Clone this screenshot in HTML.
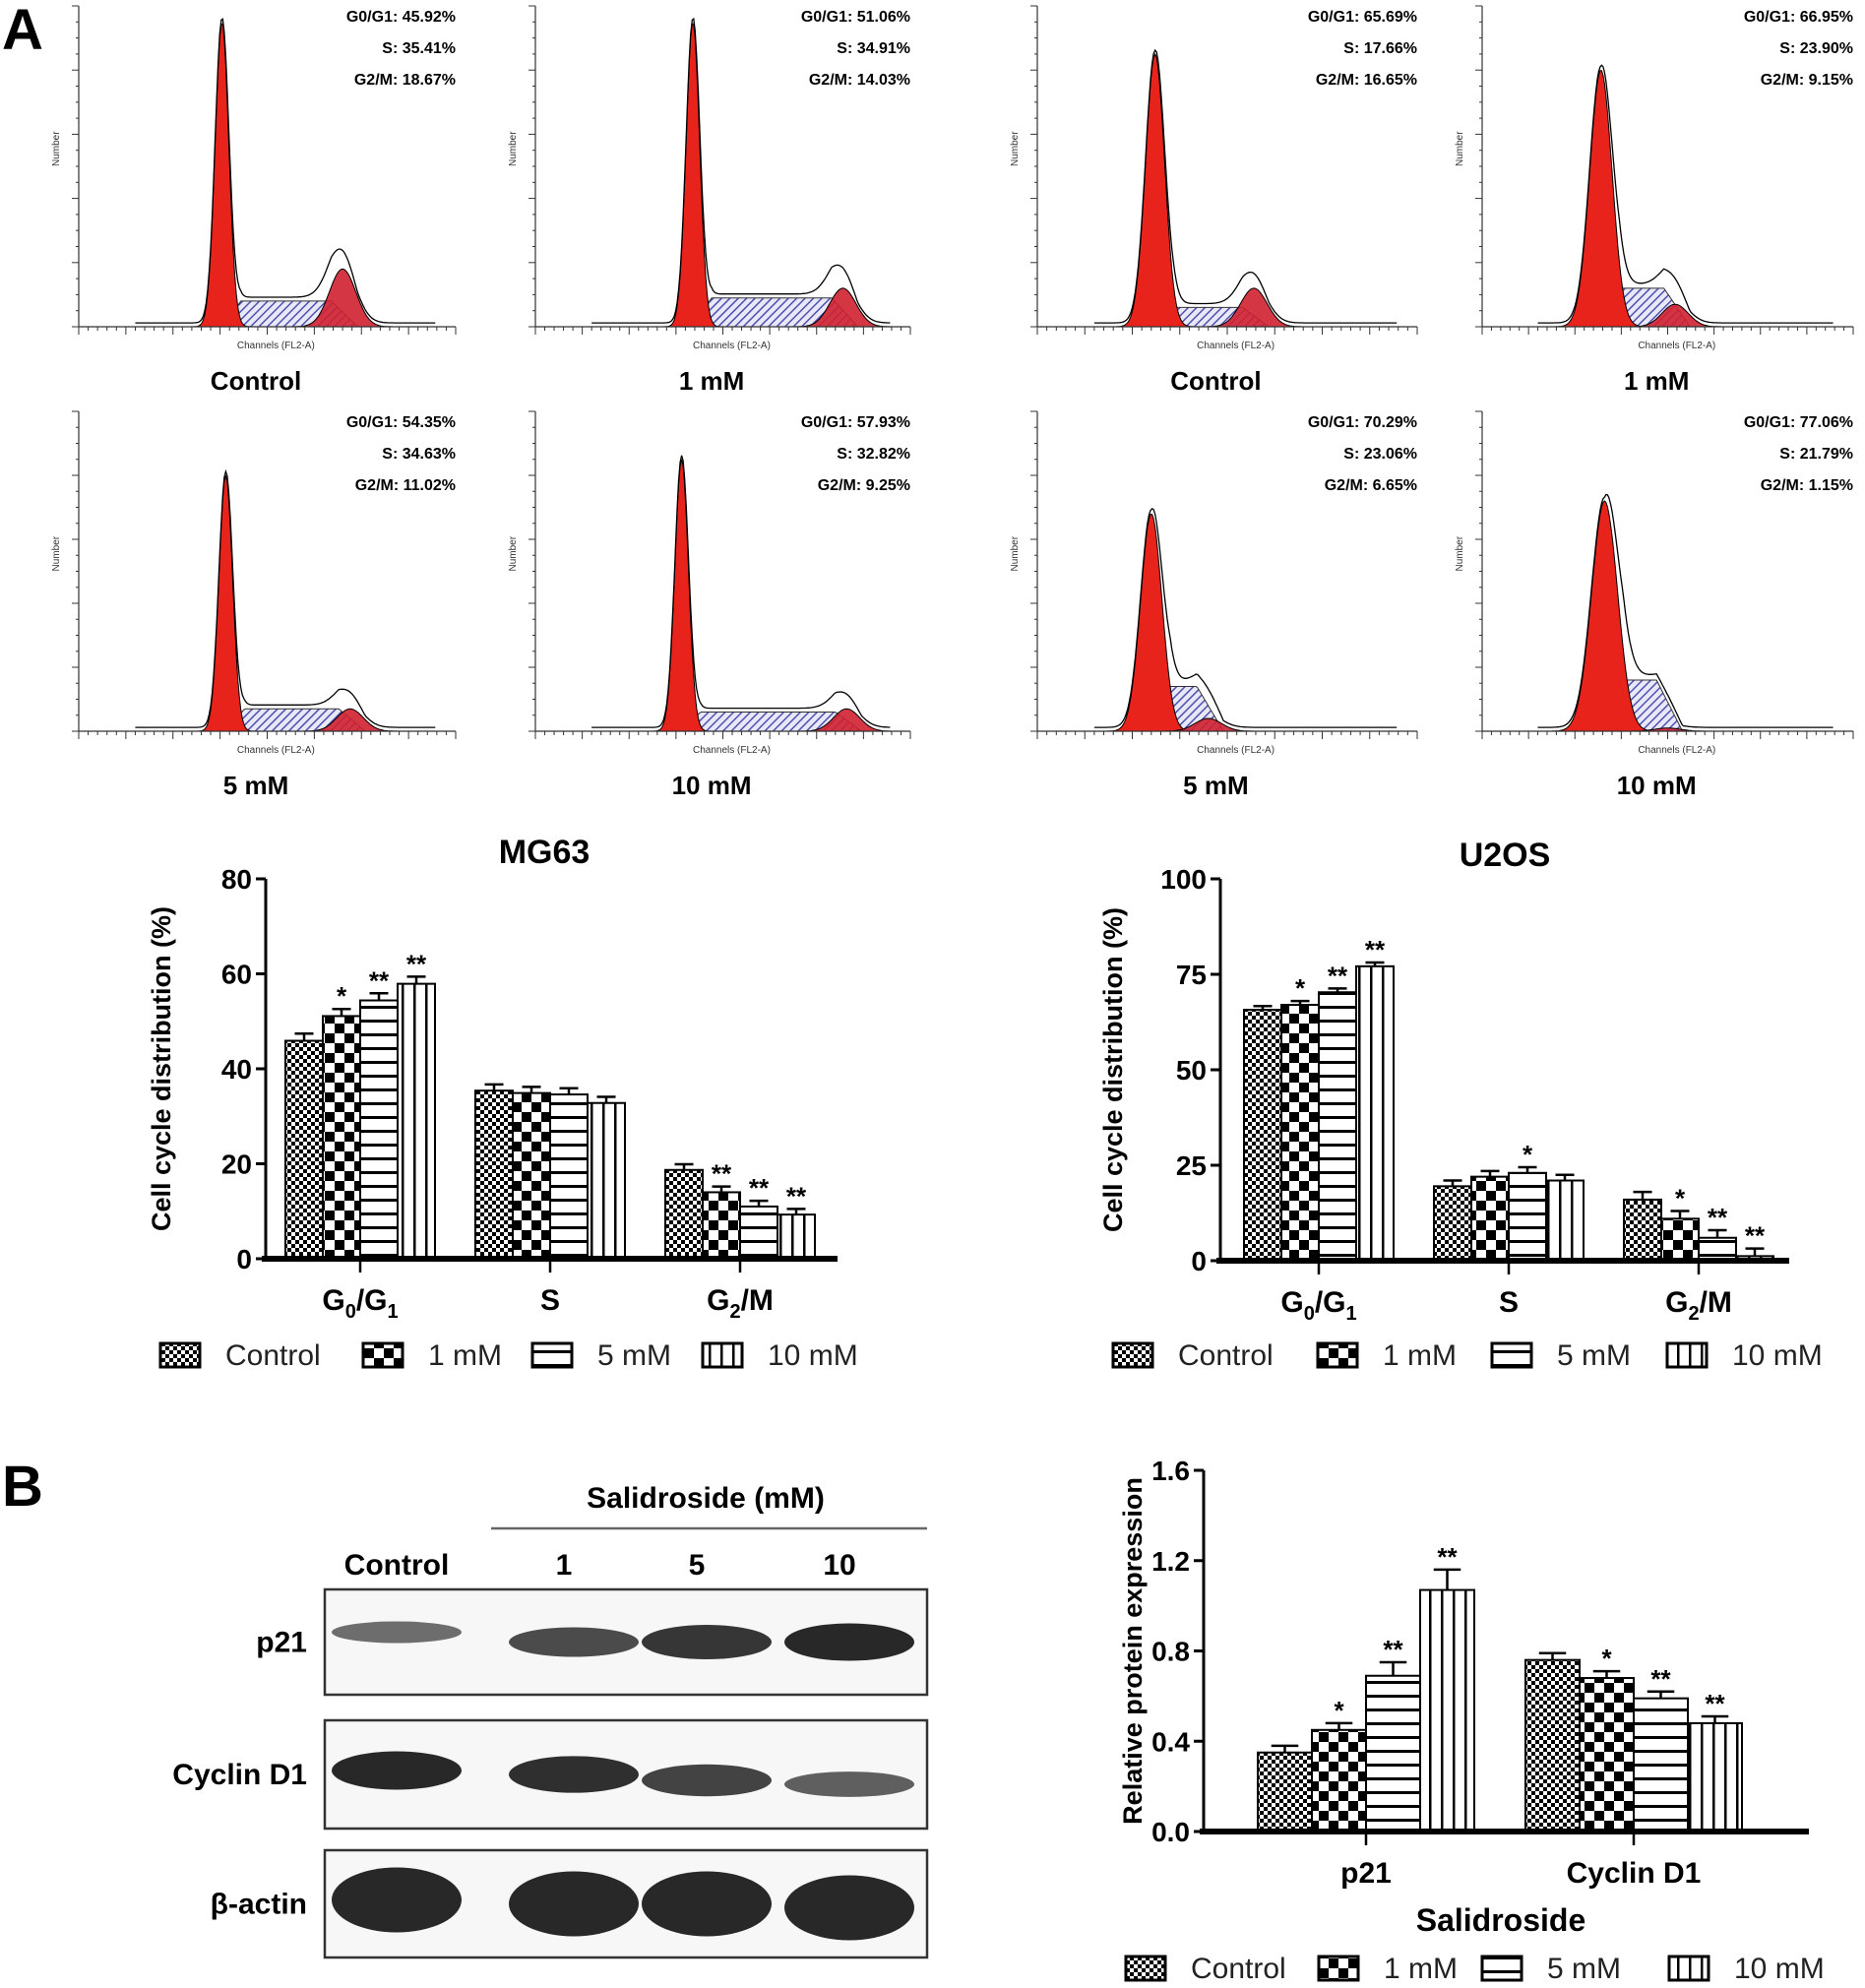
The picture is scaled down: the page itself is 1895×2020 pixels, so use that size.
<!DOCTYPE html>
<html><head><meta charset="utf-8">
<style>
body{margin:0;background:#fff;width:1895px;height:2020px;overflow:hidden;font-family:"Liberation Sans",sans-serif}
svg{position:absolute;left:0;top:0}
</style></head>
<body>
<svg id="fig" width="1895" height="2020" viewBox="0 0 1895 2020" font-family="Liberation Sans, sans-serif">
<defs>
<pattern id="pCtrl" width="8" height="8" patternUnits="userSpaceOnUse"><rect width="8" height="8" fill="#fff"/><rect width="4" height="4" fill="#000"/><rect x="4" y="4" width="4" height="4" fill="#000"/></pattern>
<pattern id="p1" width="20" height="20" patternUnits="userSpaceOnUse"><rect width="20" height="20" fill="#fff"/><rect width="10" height="10" fill="#000"/><rect x="10" y="10" width="10" height="10" fill="#000"/></pattern>
<pattern id="p5" width="10" height="14" patternUnits="userSpaceOnUse"><rect width="10" height="14" fill="#fff"/><rect y="0" width="10" height="3" fill="#000"/></pattern>
<pattern id="p10" width="12" height="10" patternUnits="userSpaceOnUse"><rect width="12" height="10" fill="#fff"/><rect width="2.5" height="10" fill="#000"/></pattern>
<pattern id="hatch" width="6" height="6" patternUnits="userSpaceOnUse" patternTransform="rotate(45)"><rect width="6" height="6" fill="#e8e8f8"/><rect width="1.5" height="6" fill="#5050b0"/></pattern>
</defs>
<text x="2" y="50" font-size="58" font-weight="bold">A</text>
<text x="2" y="1530" font-size="58" font-weight="bold">B</text>
<g id="hists"></g>
<g id="mg63"></g>
<g id="u2os"></g>
<g id="blot"></g>
<g id="prot"></g>
</svg>
<script>
const NS='http://www.w3.org/2000/svg';
function el(parent,tag,attrs,text){const e=document.createElementNS(NS,tag);for(const k in attrs)e.setAttribute(k,attrs[k]);if(text!==undefined)e.textContent=text;parent.appendChild(e);return e;}

// ---------- Histograms ----------
const histLabels=['Control','1 mM','Control','1 mM','5 mM','10 mM','5 mM','10 mM'];
const histStats=[
 ['G0/G1: 45.92%','S: 35.41%','G2/M: 18.67%'],
 ['G0/G1: 51.06%','S: 34.91%','G2/M: 14.03%'],
 ['G0/G1: 65.69%','S: 17.66%','G2/M: 16.65%'],
 ['G0/G1: 66.95%','S: 23.90%','G2/M: 9.15%'],
 ['G0/G1: 54.35%','S: 34.63%','G2/M: 11.02%'],
 ['G0/G1: 57.93%','S: 32.82%','G2/M: 9.25%'],
 ['G0/G1: 70.29%','S: 23.06%','G2/M: 6.65%'],
 ['G0/G1: 77.06%','S: 21.79%','G2/M: 1.15%']];
const histG1Pos=[0.38,0.42,0.31,0.32,0.39,0.39,0.30,0.33];
const histG1H=[0.95,0.95,0.85,0.80,0.80,0.85,0.68,0.72];
const histG1Sd=[0.018,0.018,0.025,0.03,0.018,0.018,0.028,0.035];
const histG2Pos=[0.70,0.82,0.57,0.52,0.72,0.83,0.45,0.50];
const histG2H=[0.18,0.12,0.12,0.07,0.07,0.07,0.04,0.01];
const histSH=[0.08,0.09,0.06,0.12,0.07,0.06,0.14,0.16];
const boxes=[[80,463,6,332],[544,925,6,332],[1054,1440,6,332],[1506,1883,6,332],[80,463,418,743],[544,925,418,743],[1054,1440,418,743],[1506,1883,418,743]];
const hg=document.getElementById('hists');
boxes.forEach((b,i)=>{
 const [x0,x1,y0,y1]=b, W=x1-x0, H=y1-y0;
 const g=el(hg,'g',{});
 
 
 const X=f=>x0+f*W, Y=h=>y1-h*H;
 const g1=histG1Pos[i],g2=histG2Pos[i],sd1=histG1Sd[i],sd2=0.035;
 const gauss=(f,m,s)=>Math.exp(-0.5*((f-m)/s)**2);
 const sFn=f=>{if(f<g1||f>g2+0.04)return 0;const a=Math.min(1,(f-g1)/0.05),c=Math.min(1,(g2+0.04-f)/0.07);return histSH[i]*a*c;};
 let p1='',p2='',ps='',env='';
 for(let f=0.15;f<=0.95;f+=0.004){
  const a=histG1H[i]*gauss(f,g1,sd1),c=histG2H[i]*gauss(f,g2,sd2),s=sFn(f);
  p1+=`${X(f).toFixed(1)},${Y(a).toFixed(1)} `;p2+=`${X(f).toFixed(1)},${Y(c).toFixed(1)} `;ps+=`${X(f).toFixed(1)},${Y(s).toFixed(1)} `;
  env+=`${X(f).toFixed(1)},${Y(a+c+s+0.012).toFixed(1)} `;
 }
 el(g,'polygon',{points:`${X(.15)},${y1} `+ps+`${X(.95)},${y1}`,fill:'url(#hatch)',stroke:'#333','stroke-width':1});
 el(g,'polygon',{points:`${X(.15)},${y1} `+p1+`${X(.95)},${y1}`,fill:'#e8231c',stroke:'#000','stroke-width':1});
 el(g,'polygon',{points:`${X(.15)},${y1} `+p2+`${X(.95)},${y1}`,fill:'#d02030','stroke':'#000','stroke-width':1,'fill-opacity':0.9});
 el(g,'polyline',{points:env,fill:'none',stroke:'#000','stroke-width':1.3});
 el(g,'line',{x1:x0,y1:y0,x2:x0,y2:y1,stroke:'#333','stroke-width':1.2});
 el(g,'line',{x1:x0,y1:y1,x2:x1,y2:y1,stroke:'#333','stroke-width':1.2});
 for(let k=0;k<=40;k++){el(g,'line',{x1:x0+k*W/40,y1:y1,x2:x0+k*W/40,y2:y1+(k%5?4:8),stroke:'#333','stroke-width':1});}
 for(let k=0;k<=20;k++){el(g,'line',{x1:x0,y1:y1-k*H/20,x2:x0-(k%4?3:7),y2:y1-k*H/20,stroke:'#333','stroke-width':1});}
 el(g,'text',{x:x0+W*0.42,y:y1+22,'font-size':10,fill:'#333'},'Channels  (FL2-A)');
 el(g,'text',{x:x0-20,y:y0+H*0.5,'font-size':10,fill:'#333',transform:`rotate(-90 ${x0-20} ${y0+H*0.5})`},'Number');
 histStats[i].forEach((t,k)=>el(g,'text',{x:x1,y:y0+16+k*32,'font-size':16,'font-weight':'bold','text-anchor':'end'},t));
 el(g,'text',{x:x0+W*0.47,y:y1+64,'font-size':26,'font-weight':'bold','text-anchor':'middle'},histLabels[i]);
});

// ---------- Bar charts ----------
const legendNames=['Control','1 mM','5 mM','10 mM'];
const fills=['url(#pCtrl)','url(#p1)','url(#p5)','url(#p10)'];
const mgCats=['G0/G1','S','G2/M'];
const mgCtrl=[45.9,35.4,18.7];
const mg1=[51.1,34.9,14.0];
const mg5=[54.4,34.6,11.0];
const mg10=[57.9,32.8,9.3];
const mgErr=[1.5,1.3,1.2];
const mgStars=[['','*','**','**'],['','','',''],['','**','**','**']];
const mgTicks=[0,20,40,60,80];
const uCtrl=[65.7,19.5,16.0];
const u1=[67.0,22.0,11.0];
const u5=[70.3,23.0,6.0];
const u10=[77.1,21.0,1.2];
const uErr=[1.0,1.5,2.0];
const uStars=[['','*','**','**'],['','','*',''],['','*','**','**']];
const uTicks=[0,25,50,75,100];
const pCats=['p21','Cyclin D1'];
const pCtrl=[0.35,0.76];
const p1v=[0.45,0.68];
const p5v=[0.69,0.59];
const p10v=[1.07,0.48];
const pStars=[['','*','**','**'],['','*','**','**']];
const pTicks=['0.0','0.4','0.8','1.2','1.6'];

function subLabel(g,x,y,txt){
 const t=el(g,'text',{x:x,y:y,'font-size':30,'font-weight':'bold','text-anchor':'middle'});
 if(txt==='G0/G1'){t.innerHTML='G<tspan font-size="20" dy="8">0</tspan><tspan dy="-8">/G</tspan><tspan font-size="20" dy="8">1</tspan>';}
 else if(txt==='G2/M'){t.innerHTML='G<tspan font-size="20" dy="8">2</tspan><tspan dy="-8">/M</tspan>';}
 else t.textContent=txt;
 return t;
}
function barChart(opt){
 const g=document.getElementById(opt.id);
 
 
 const {x0,x1,yb,yt,max,centers,bw}=opt;
 const Y=v=>yb-(v/max)*(yb-yt);
 const series=opt.series;
 centers.forEach((c,ci)=>{
  series.forEach((s,si)=>{
   const v=s[ci];const bx=c-2*bw+si*bw;
   const r=el(g,'rect',{x:bx,y:Y(v),width:bw,height:yb-Y(v),fill:fills[si],stroke:'#000','stroke-width':2});
   
   
   const e=opt.err(ci,si);
   el(g,'line',{x1:bx+bw/2,y1:Y(v),x2:bx+bw/2,y2:Y(v+e),stroke:'#000','stroke-width':2.5});
   el(g,'line',{x1:bx+bw*0.25,y1:Y(v+e),x2:bx+bw*0.75,y2:Y(v+e),stroke:'#000','stroke-width':2.5});
   const st=opt.stars[ci][si];
   if(st)el(g,'text',{x:bx+bw/2,y:Y(v+e)-4,'font-size':26,'font-weight':'bold','text-anchor':'middle'},st);
  });
  el(g,'line',{x1:c,y1:yb,x2:c,y2:yb+14,stroke:'#000','stroke-width':2.5});
  if(opt.sub)subLabel(g,c,yb+52,opt.cats[ci]);else el(g,'text',{x:c,y:yb+52,'font-size':30,'font-weight':'bold','text-anchor':'middle'},opt.cats[ci]);
 });
 el(g,'line',{x1:x0,y1:yt,x2:x0,y2:yb,stroke:'#000','stroke-width':3});
 el(g,'line',{x1:x0-4,y1:yb,x2:x1,y2:yb,stroke:'#000','stroke-width':6});
 opt.ticks.forEach(t=>{const y=Y(parseFloat(t));el(g,'line',{x1:x0-10,y1:y,x2:x0,y2:y,stroke:'#000','stroke-width':3});
  el(g,'text',{x:x0-14,y:y+10,'font-size':28,'font-weight':'bold','text-anchor':'end'},t);});
 const ym=(yb+yt)/2;
 el(g,'text',{x:opt.ytx,y:ym,'font-size':27,'font-weight':'bold','text-anchor':'middle',transform:`rotate(-90 ${opt.ytx} ${ym})`},opt.ytitle);
 if(opt.title)el(g,'text',{x:opt.title[1],y:opt.title[2],'font-size':34,'font-weight':'bold','text-anchor':'middle'},opt.title[0]);
 const ly=opt.legend[1];
 legendNames.forEach((n,i)=>{
  const lx=opt.legend[0][i];
  const lg=el(g,'g',{});
  
  
  el(lg,'rect',{x:lx,y:ly-22,width:40,height:24,fill:fills[i],stroke:'#000','stroke-width':3});
  el(lg,'text',{x:lx+66,y:ly,'font-size':30,fill:'#222'},n);
 });
}
barChart({id:'mg63',name:'mg63-bar-chart',x0:270,x1:851,yb:1279,yt:893,max:80,centers:[366,559,752],bw:38,cats:mgCats,
 series:[mgCtrl,mg1,mg5,mg10],err:(c,s)=>mgErr[c],stars:mgStars,ticks:mgTicks.map(String),sub:true,
 ytx:173,ytitle:'Cell cycle distribution (%)',title:['MG63',553,877],legend:[[163,369,541,714],1387]});
barChart({id:'u2os',name:'u2os-bar-chart',x0:1240,x1:1818,yb:1281,yt:893,max:100,centers:[1340,1533,1726],bw:38,cats:mgCats,
 series:[uCtrl,u1,u5,u10],err:(c,s)=>uErr[c],stars:uStars,ticks:uTicks.map(String),sub:true,
 ytx:1140,ytitle:'Cell cycle distribution (%)',title:['U2OS',1529,880],legend:[[1131,1339,1516,1694],1387]});
barChart({id:'prot',name:'protein-expression-chart',x0:1223,x1:1838,yb:1861,yt:1494,max:1.6,centers:[1388,1660],bw:55,cats:pCats,
 series:[pCtrl,p1v,p5v,p10v],err:(c,s)=>c===0?[0.03,0.03,0.06,0.09][s]:0.03,stars:pStars,ticks:pTicks,sub:false,
 ytx:1160,ytitle:'Relative protein expression',title:null,legend:[[1144,1340,1506,1696],2010]});
el(document.getElementById('prot'),'text',{x:1525,y:1962,'font-size':32,'font-weight':'bold','text-anchor':'middle'},'Salidroside');

// ---------- Western blot ----------
const bg=document.getElementById('blot');


el(bg,'text',{x:717,y:1532,'font-size':30,'font-weight':'bold','text-anchor':'middle'},'Salidroside (mM)');
el(bg,'line',{x1:499,y1:1553,x2:942,y2:1553,stroke:'#666','stroke-width':2.5});
const laneNames=['Control','1','5','10'];
const laneX=[403,573,708,853];
laneNames.forEach((n,i)=>el(bg,'text',{x:laneX[i],y:1600,'font-size':30,'font-weight':'bold','text-anchor':'middle'},n));
const rows=[['p21',1615,1722,[0.5,0.75,0.9,1.0],[-10,0,0,0],0.3],['Cyclin D1',1748,1858,[1,0.95,0.8,0.6],[-4,0,6,10],0.3],['β-actin',1880,1989,[1,1,1,1],[-4,0,0,4],0.55]];
rows.forEach(r=>{
 const [n,y0,y1,ints,off,hf]=r;
 const rg=el(bg,'g',{});
 
 
 el(rg,'rect',{x:330,y:y0,width:612,height:y1-y0,fill:'#f7f7f7',stroke:'#333','stroke-width':2.5});
 const cy=(y0+y1)/2;
 laneX.forEach((x,i)=>{
  el(rg,'ellipse',{cx:x+(i==0?0:10),cy:cy+off[i],rx:66,ry:(y1-y0)*hf*0.5*ints[i]+3,fill:'#111','fill-opacity':0.3+0.6*ints[i]});
 });
 el(rg,'text',{x:312,y:cy+10,'font-size':30,'font-weight':'bold','text-anchor':'end'},n);
});
</script>
</body></html>
